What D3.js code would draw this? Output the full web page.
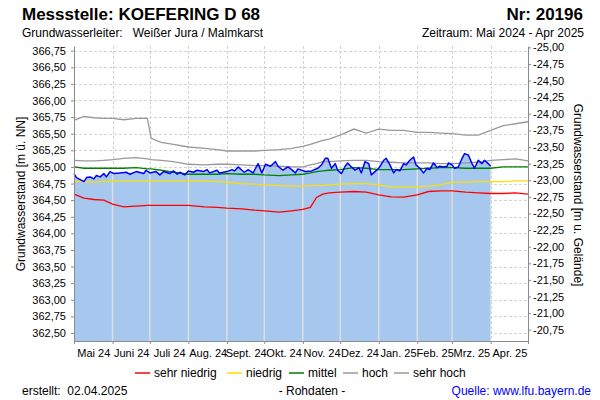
<!DOCTYPE html>
<html><head><meta charset="utf-8">
<script src="https://cdn.jsdelivr.net/npm/d3@7"></script>
<style>
body{margin:0;background:#fff;}
svg{display:block;font-family:"Liberation Sans",Arial,sans-serif;}
</style>
</head><body>
<svg id="c" width="600" height="400"></svg>
<script>
// ---------- data ----------
const monthLabels = ["Mai 24","Juni 24","Juli 24","Aug. 24","Sept. 24","Okt. 24","Nov. 24","Dez. 24","Jan. 25","Feb. 25","Mrz. 25","Apr. 25"];
const leftTicks = [362.5,362.75,363,363.25,363.5,363.75,364,364.25,364.5,364.75,365,365.25,365.5,365.75,366,366.25,366.5,366.75];
const rightTicks = [-25,-24.75,-24.5,-24.25,-24,-23.75,-23.5,-23.25,-23,-22.75,-22.5,-22.25,-22,-21.75,-21.5,-21.25,-21,-20.75];

// measured groundwater level (m ü. NN)
const levelDates = [
 "2024-05-01","2024-05-03","2024-05-06","2024-05-09","2024-05-11","2024-05-14","2024-05-17","2024-05-19","2024-05-22","2024-05-25","2024-05-27","2024-05-30",
 "2024-06-02","2024-06-07","2024-06-12","2024-06-15","2024-06-20","2024-06-26","2024-06-28",
 "2024-07-01","2024-07-06","2024-07-09","2024-07-12","2024-07-17","2024-07-20","2024-07-23","2024-07-25","2024-07-29",
 "2024-08-01","2024-08-05","2024-08-08","2024-08-13","2024-08-16","2024-08-18","2024-08-24","2024-08-26",
 "2024-09-01","2024-09-05","2024-09-07","2024-09-10","2024-09-13","2024-09-15","2024-09-18","2024-09-22","2024-09-26","2024-09-29",
 "2024-10-02","2024-10-06","2024-10-10","2024-10-12","2024-10-16","2024-10-20","2024-10-23","2024-10-26","2024-10-28",
 "2024-11-03","2024-11-08","2024-11-13","2024-11-16","2024-11-19","2024-11-21","2024-11-24","2024-11-27","2024-11-29",
 "2024-12-02","2024-12-05","2024-12-07","2024-12-10","2024-12-13","2024-12-16","2024-12-18","2024-12-21","2024-12-24","2024-12-26","2024-12-29",
 "2025-01-01","2025-01-05","2025-01-07","2025-01-10","2025-01-13","2025-01-15","2025-01-18","2025-01-21","2025-01-23","2025-01-26","2025-01-29","2025-01-31",
 "2025-02-03","2025-02-06","2025-02-09","2025-02-11","2025-02-14","2025-02-17","2025-02-19","2025-02-22","2025-02-25","2025-02-26",
 "2025-03-01","2025-03-03","2025-03-06","2025-03-09","2025-03-11","2025-03-14","2025-03-17","2025-03-19","2025-03-22","2025-03-25","2025-03-27","2025-03-30",
 "2025-04-01"
];
const levelValues = [
 364.90,364.84,364.81,364.78,364.84,364.85,364.82,364.87,364.85,364.90,364.85,364.93,
 364.90,364.91,364.92,364.89,364.93,364.90,364.95,
 364.91,364.93,364.88,364.93,364.90,364.94,364.89,364.92,364.88,
 364.94,364.92,364.95,364.93,364.96,364.91,364.95,364.91,
 364.93,364.96,364.94,365.00,364.95,364.92,364.96,364.91,365.05,364.91,
 365.04,365.01,365.08,365.01,364.95,365.00,364.96,364.91,364.97,
 364.93,364.94,364.98,365.03,365.13,365.13,364.98,365.05,364.95,
 364.90,365.01,365.06,365.00,364.95,364.99,364.91,365.08,365.05,364.88,364.93,
 364.98,365.10,365.13,365.03,364.91,364.96,364.94,365.05,365.03,365.10,365.15,365.03,
 364.98,364.91,364.98,364.96,365.06,364.99,365.01,365.00,365.01,365.06,
 365.03,364.98,365.00,365.13,365.20,365.18,365.05,364.98,365.10,365.05,365.10,365.05,
 365.01
];

// statistic reference lines (m ü. NN)
const statDates = [
 "2024-05-01","2024-05-09","2024-05-17","2024-05-25","2024-06-01","2024-06-10","2024-06-20","2024-06-29","2024-07-02","2024-07-10",
 "2024-07-20","2024-08-01","2024-08-14","2024-08-24","2024-09-01","2024-09-13","2024-09-23","2024-10-01","2024-10-13","2024-10-23",
 "2024-11-01","2024-11-07","2024-11-12","2024-11-17","2024-11-22","2024-12-01","2024-12-12","2024-12-22","2025-01-01","2025-01-11",
 "2025-01-21","2025-02-01","2025-02-10","2025-02-20","2025-03-01","2025-03-12","2025-03-22","2025-04-01","2025-04-11","2025-04-21",
 "2025-05-01"
];
const sehrHoch = [365.70,365.76,365.74,365.73,365.73,365.71,365.73,365.73,365.43,365.37,365.34,365.30,365.28,365.26,365.24,365.24,365.24,365.25,365.26,365.28,365.31,365.34,365.37,365.40,365.42,365.48,365.57,365.51,365.57,365.55,365.55,365.52,365.52,365.51,365.50,365.48,365.48,365.55,365.62,365.65,365.68];
const hoch = [365.10,365.09,365.09,365.10,365.11,365.13,365.14,365.12,365.11,365.10,365.08,365.04,365.03,365.04,365.04,365.03,365.02,365.02,365.01,365.00,365.00,365.03,365.05,365.08,365.08,365.09,365.10,365.10,365.08,365.07,365.06,365.06,365.06,365.05,365.05,365.06,365.07,365.10,365.11,365.12,365.09];
const mittel = [365.00,364.98,364.98,364.98,364.98,364.98,364.99,364.97,364.97,364.95,364.92,364.89,364.89,364.89,364.90,364.89,364.89,364.88,364.87,364.88,364.89,364.91,364.93,364.94,364.95,364.96,364.99,364.98,364.96,364.96,364.96,364.97,364.98,364.99,364.99,364.98,364.98,364.98,365.00,365.00,365.00];
const niedrig = [364.79,364.78,364.77,364.78,364.79,364.79,364.79,364.79,364.79,364.79,364.79,364.79,364.79,364.78,364.77,364.75,364.74,364.73,364.72,364.71,364.71,364.72,364.72,364.72,364.73,364.74,364.75,364.75,364.73,364.70,364.70,364.70,364.71,364.73,364.77,364.77,364.78,364.78,364.78,364.79,364.79];
const sehrNiedrig = [364.59,364.53,364.51,364.50,364.44,364.40,364.41,364.42,364.42,364.42,364.42,364.42,364.40,364.39,364.38,364.37,364.35,364.34,364.32,364.34,364.36,364.39,364.54,364.59,364.61,364.62,364.63,364.62,364.58,364.55,364.545,364.58,364.63,364.64,364.64,364.62,364.61,364.60,364.60,364.61,364.59];

const legendNames = ["sehr niedrig","niedrig","mittel","hoch","sehr hoch"];
const legendColors = ["#ff0000","#ffdd00","#008000","#999999","#999999"];

// ---------- chart ----------
const svg = d3.select("#c");
const parse = d3.timeParse("%Y-%m-%d");
const loc = d3.formatLocale({decimal:",",thousands:".",grouping:[3],currency:["","€"],minus:"-"});
const fmt = loc.format(".2f");

const L = 74, R = 528, T = 46, B = 341;
const x = d3.scaleTime().domain([parse("2024-05-01"), parse("2025-05-01")]).range([L, R]);
const y = d3.scaleLinear().domain([362.38, 366.82]).range([B, T]);
const yR = d3.scaleLinear().domain([-20.58, -25.02]).range([B, T]);

const bounds = d3.timeMonth.range(parse("2024-05-01"), parse("2025-05-02"));
const mids = bounds.slice(0, 12).map((d, i) => new Date((+d + +bounds[i + 1]) / 2));

// grid
const grid = svg.append("g").attr("stroke", "#d4d4d4").attr("stroke-dasharray", "3,2").attr("stroke-width", 1);
grid.selectAll(".h").data(leftTicks).join("line")
  .attr("x1", L).attr("x2", R).attr("y1", d => Math.round(y(d)) + 0.5).attr("y2", d => Math.round(y(d)) + 0.5);
grid.selectAll(".v").data(bounds.slice(1, 12)).join("line")
  .attr("x1", d => Math.round(x(d)) + 0.5).attr("x2", d => Math.round(x(d)) + 0.5).attr("y1", T).attr("y2", B);

// level area
const level = levelDates.map((d, i) => ({date: parse(d), v: levelValues[i]}));
const area = d3.area().x(d => x(d.date)).y0(B).y1(d => y(d.v));
svg.append("path").datum(level).attr("d", area).attr("fill", "#a6c8ee");

svg.append("clipPath").attr("id", "ac").append("path").datum(level).attr("d", area);
svg.append("g").attr("clip-path", "url(#ac)").attr("stroke", "#dedede").attr("stroke-width", 1.5)
  .selectAll("line").data(bounds.slice(1, 12)).join("line")
  .attr("x1", d => x(d)).attr("x2", d => x(d)).attr("y1", T).attr("y2", B);

// stat lines
const statSeries = [
  {vals: sehrNiedrig, c: legendColors[0]},
  {vals: niedrig, c: legendColors[1]},
  {vals: mittel, c: legendColors[2]},
  {vals: hoch, c: legendColors[3]},
  {vals: sehrHoch, c: legendColors[4]}
];
const line = d3.line().x(d => x(d.date)).y(d => y(d.v));
statSeries.forEach(s => {
  const pts = statDates.map((d, i) => ({date: parse(d), v: s.vals[i]}));
  svg.append("path").datum(pts).attr("d", line).attr("fill", "none")
    .attr("stroke", s.c).attr("stroke-width", 1.3);
});

// level line
svg.append("path").datum(level).attr("d", line).attr("fill", "none")
  .attr("stroke", "#0000ff").attr("stroke-width", 1.5).attr("stroke-linejoin", "round");

// axes
function styleAxis(g) {
  g.attr("font-family", '"Liberation Sans",Arial,sans-serif').attr("font-size", 11);
  g.select(".domain").attr("stroke", "#8c8c8c");
  g.selectAll(".tick line").attr("stroke", "#8c8c8c");
  g.selectAll(".tick text").attr("fill", "#000");
}
svg.append("g").attr("transform", `translate(${L},0)`)
  .call(d3.axisLeft(y).tickValues(leftTicks).tickSize(3).tickSizeOuter(0).tickPadding(5).tickFormat(fmt))
  .call(styleAxis);
svg.append("g").attr("transform", `translate(${R},0)`)
  .call(d3.axisRight(yR).tickValues(rightTicks).tickSize(3).tickSizeOuter(0).tickPadding(2).tickFormat(fmt))
  .call(styleAxis);
svg.append("g").attr("transform", `translate(0,${B})`)
  .call(d3.axisBottom(x).tickValues(bounds).tickSize(3).tickSizeOuter(0).tickFormat(""))
  .call(styleAxis);
svg.append("g").attr("transform", `translate(0,${B})`)
  .call(d3.axisBottom(x).tickValues(mids).tickSize(0).tickPadding(8).tickFormat((d, i) => monthLabels[i]))
  .call(styleAxis)
  .call(g => g.select(".domain").remove());

// axis titles
svg.append("text").attr("transform", "translate(25,194) rotate(-90)").attr("text-anchor", "middle")
  .attr("font-size", 12).text("Grundwasserstand [m ü. NN]");
svg.append("text").attr("transform", "translate(574,195) rotate(90)").attr("text-anchor", "middle")
  .attr("font-size", 12).text("Grundwasserstand [m u. Gelände]");

// header
svg.append("text").attr("x", 22).attr("y", 20).attr("font-size", 17).attr("font-weight", "bold")
  .text("Messstelle: KOEFERING D 68");
svg.append("text").attr("x", 583).attr("y", 20).attr("font-size", 17).attr("font-weight", "bold")
  .attr("text-anchor", "end").text("Nr: 20196");
svg.append("text").attr("x", 22).attr("y", 37).attr("font-size", 12).style("white-space", "pre")
  .text("Grundwasserleiter:   Weißer Jura / Malmkarst");
svg.append("text").attr("x", 584).attr("y", 37).attr("font-size", 12).attr("text-anchor", "end")
  .text("Zeitraum: Mai 2024 - Apr 2025");

// legend
const legX = [135, 227, 289, 343, 394];
const lg = svg.append("g");
legendNames.forEach((n, i) => {
  lg.append("line").attr("x1", legX[i]).attr("x2", legX[i] + 15).attr("y1", 373).attr("y2", 373)
    .attr("stroke", legendColors[i]).attr("stroke-width", 1.5);
  lg.append("text").attr("x", legX[i] + 19).attr("y", 377).attr("font-size", 12).text(n);
});

// footer
svg.append("text").attr("x", 22).attr("y", 395).attr("font-size", 12).style("white-space", "pre")
  .text("erstellt:  02.04.2025");
svg.append("text").attr("x", 312).attr("y", 395).attr("font-size", 12).attr("text-anchor", "middle")
  .text("- Rohdaten -");
svg.append("text").attr("x", 591).attr("y", 395).attr("font-size", 12).attr("text-anchor", "end")
  .attr("fill", "#0000ff").text("Quelle: www.lfu.bayern.de");
</script>
</body></html>
